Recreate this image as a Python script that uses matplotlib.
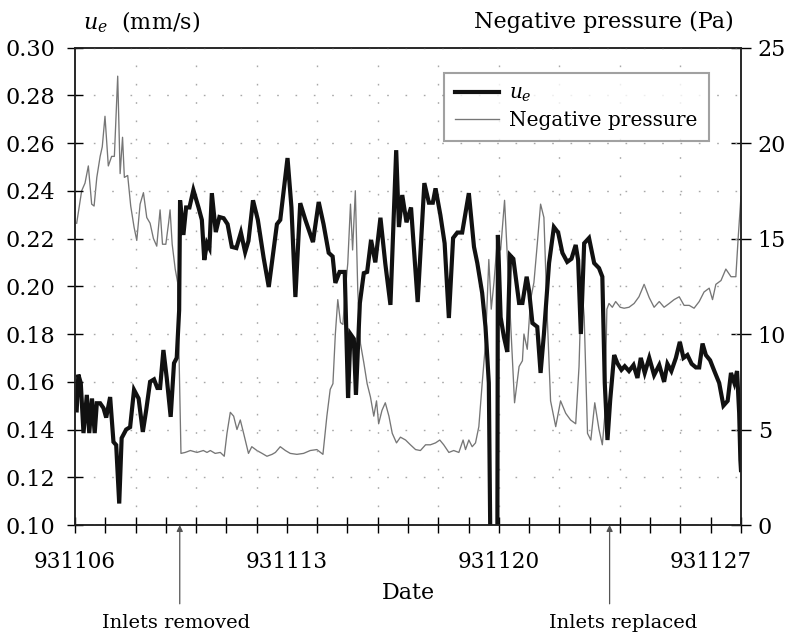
import matplotlib
matplotlib.use('Agg')
import matplotlib.pyplot as plt
import matplotlib.transforms as mtransforms
from matplotlib.ticker import FixedLocator, MultipleLocator, FormatStrFormatter

plt.rcParams['font.family'] = ['DejaVu Serif']
plt.rcParams['mathtext.fontset'] = 'dejavuserif'

# ---------------- data ----------------
date_ticks = [0, 7, 14, 21]
date_labels = ['931106', '931113', '931120', '931127']

# u_e (mm/s) : day offset from 931106, value
ue_day = [0.055, 0.11, 0.19, 0.28, 0.39, 0.47, 0.56, 0.65, 0.72, 0.83, 0.94, 1.03, 1.16, 1.27,
          1.36, 1.46, 1.54, 1.69, 1.82, 1.95, 2.10, 2.24, 2.35, 2.48, 2.61, 2.72, 2.81, 2.92,
          3.03, 3.16, 3.27, 3.36, 3.44, 3.47, 3.58, 3.67, 3.78, 3.91, 4.08, 4.19, 4.27, 4.36,
          4.44, 4.52, 4.65, 4.77, 4.91, 5.04, 5.18, 5.33, 5.48, 5.62, 5.73, 5.88, 6.04, 6.23,
          6.40, 6.56, 6.67, 6.78, 7.02, 7.15, 7.28, 7.44, 7.61, 7.86, 8.05, 8.21, 8.38, 8.51,
          8.60, 8.74, 8.91, 9.02, 9.10, 9.21, 9.28, 9.41, 9.54, 9.65, 9.78, 9.92, 10.09, 10.25,
          10.42, 10.61, 10.70, 10.81, 10.95, 11.10, 11.32, 11.54, 11.69, 11.82, 11.91, 12.07,
          12.21, 12.35, 12.49, 12.63, 12.79, 13.01, 13.18, 13.29, 13.45, 13.56, 13.67, 13.73,
          13.95, 13.97, 14.06, 14.17, 14.28, 14.37, 14.48, 14.67, 14.78, 14.92, 15.00, 15.11,
          15.27, 15.38, 15.49, 15.66, 15.82, 15.96, 16.10, 16.26, 16.40, 16.54, 16.62, 16.71,
          16.82, 16.98, 17.15, 17.31, 17.42, 17.50, 17.59, 17.68, 17.81, 17.92, 18.05, 18.16,
          18.30, 18.45, 18.58, 18.69, 18.82, 18.97, 19.13, 19.30, 19.46, 19.57, 19.70, 19.85,
          19.98, 20.10, 20.23, 20.37, 20.51, 20.62, 20.73, 20.84, 20.98, 21.12, 21.28, 21.42,
          21.56, 21.67, 21.78, 21.87, 21.94, 21.98, 22.00]
ue_val = [0.148, 0.163, 0.1595, 0.1385, 0.1545, 0.1385, 0.153, 0.1385, 0.151, 0.151, 0.149, 0.145,
          0.1536, 0.1348, 0.1335, 0.109, 0.1364, 0.140, 0.141, 0.1566, 0.153, 0.139, 0.148, 0.160,
          0.161, 0.1574, 0.1574, 0.1733, 0.1616, 0.1453, 0.1678, 0.170, 0.190, 0.236, 0.2215,
          0.233, 0.233, 0.2403, 0.233, 0.2278, 0.211, 0.218, 0.216, 0.239, 0.2227, 0.229, 0.2285,
          0.226, 0.2165, 0.216, 0.2225, 0.2143, 0.219, 0.236, 0.2278, 0.212, 0.1997, 0.2155,
          0.226, 0.2278, 0.2537, 0.233, 0.1955, 0.2348, 0.2278, 0.2185, 0.2353, 0.226, 0.214,
          0.2125, 0.2014, 0.206, 0.206, 0.1532, 0.180, 0.178, 0.1545, 0.193, 0.2055, 0.206,
          0.2194, 0.210, 0.2287, 0.2095, 0.1922, 0.257, 0.2248, 0.2382, 0.2268, 0.233, 0.1934,
          0.2432, 0.235, 0.235, 0.241, 0.2298, 0.218, 0.1867, 0.2202, 0.2225, 0.2225, 0.239,
          0.2165, 0.2097, 0.1972, 0.183, 0.1595, 0.08, 0.08, 0.2215, 0.187, 0.1787, 0.1725,
          0.213, 0.2115, 0.193, 0.193, 0.204, 0.198, 0.1846, 0.183, 0.1637, 0.180, 0.2097,
          0.2248, 0.2225, 0.214, 0.2102, 0.2115, 0.2173, 0.211, 0.180, 0.218, 0.2202, 0.2097,
          0.2076, 0.204, 0.1595, 0.1356, 0.1524, 0.1712, 0.1677, 0.165, 0.1665, 0.1645, 0.1670,
          0.1616, 0.170, 0.1637, 0.170, 0.1628, 0.1670, 0.160, 0.1675, 0.1645, 0.170, 0.1767,
          0.170, 0.1712, 0.1675, 0.166, 0.166, 0.176, 0.1712, 0.169, 0.1645, 0.1595, 0.150,
          0.152, 0.1637, 0.1595, 0.1645, 0.147, 0.1272, 0.123]

# Negative pressure (Pa)
np_day = [0.055, 0.22, 0.33, 0.44, 0.55, 0.63, 0.72, 0.83, 0.90, 0.99, 1.10, 1.21, 1.30, 1.41,
          1.49, 1.57, 1.63, 1.74, 1.84, 1.95, 2.04, 2.15, 2.26, 2.37, 2.48, 2.59, 2.70, 2.81,
          2.89, 3.00, 3.09, 3.14, 3.21, 3.31, 3.39, 3.44, 3.50, 3.64, 3.81, 4.03, 4.24, 4.36,
          4.47, 4.63, 4.80, 4.93, 5.02, 5.13, 5.24, 5.35, 5.46, 5.57, 5.73, 5.84, 6.01, 6.18,
          6.34, 6.51, 6.62, 6.78, 6.95, 7.11, 7.33, 7.55, 7.77, 7.99, 8.19, 8.32, 8.43, 8.52,
          8.60, 8.68, 8.77, 8.85, 8.93, 9.01, 9.10, 9.17, 9.26, 9.34, 9.43, 9.54, 9.65, 9.76,
          9.87, 9.96, 10.03, 10.14, 10.25, 10.37, 10.48, 10.62, 10.75, 10.92, 11.08, 11.25,
          11.41, 11.58, 11.74, 11.91, 12.05, 12.18, 12.35, 12.51, 12.68, 12.82, 12.90, 13.01,
          13.12, 13.23, 13.34, 13.45, 13.56, 13.67, 13.75, 13.84, 13.95, 14.06, 14.19, 14.52,
          14.67, 14.78, 14.83, 14.94, 15.05, 15.16, 15.27, 15.38, 15.49, 15.60, 15.71, 15.88,
          16.04, 16.21, 16.37, 16.54, 16.65, 16.73, 16.82, 16.93, 17.04, 17.17, 17.31, 17.42,
          17.50, 17.57, 17.64, 17.75, 17.86, 18.01, 18.14, 18.30, 18.47, 18.63, 18.80, 18.97,
          19.13, 19.30, 19.46, 19.63, 19.79, 19.96, 20.12, 20.29, 20.45, 20.62, 20.78, 20.95,
          21.06, 21.17, 21.34, 21.50, 21.67, 21.83, 21.91, 22.00]
np_val = [15.8, 17.5, 17.9, 18.8, 16.8, 16.7, 18.2, 19.3, 19.8, 21.4, 18.8, 19.3, 19.3, 23.5,
          18.4, 20.3, 18.2, 18.3, 16.7, 15.6, 14.9, 16.8, 17.4, 16.1, 15.8, 15.0, 14.6, 16.5,
          14.7, 14.7, 15.8, 16.5, 14.7, 13.4, 12.7, 8.5, 3.75, 3.8, 3.9, 3.8, 3.9, 3.8, 3.9,
          3.75, 3.8, 3.6, 4.8, 5.9, 5.7, 5.0, 5.5, 4.8, 3.75, 4.1, 3.9, 3.75, 3.6, 3.7, 3.8,
          4.1, 3.9, 3.75, 3.7, 3.75, 3.9, 3.95, 3.7, 5.7, 7.1, 7.4, 10.0, 11.8, 10.6, 10.5,
          12.3, 13.7, 16.8, 14.4, 17.5, 12.3, 9.5, 8.5, 7.4, 6.7, 5.7, 6.5, 5.3, 6.0, 6.4, 5.7,
          4.8, 4.3, 4.6, 4.45, 4.2, 3.95, 3.9, 4.2, 4.2, 4.3, 4.45, 4.2, 3.8, 3.9, 3.8, 4.45,
          3.95, 4.45, 4.1, 4.3, 5.15, 7.4, 9.5, 13.9, 11.3, 12.7, 14.9, 14.4, 17.0, 6.4, 8.3,
          8.6, 10.0, 9.2, 11.8, 12.7, 14.7, 16.8, 16.1, 10.9, 6.5, 5.15, 6.5, 5.85, 5.5, 5.3,
          8.3, 12.7, 10.9, 4.8, 4.45, 6.4, 5.0, 4.2, 5.7, 11.3, 11.6, 11.4, 11.7, 11.4, 11.35,
          11.4, 11.6, 11.95, 12.6, 11.9, 11.4, 11.7, 11.4, 11.6, 11.8, 11.95, 11.5, 11.5, 11.35,
          11.7, 12.2, 12.4, 11.8, 12.6, 12.8, 13.4, 13.0, 13.0, 15.1, 17.2]

event_names = ['Inlets removed', 'Inlets replaced']
event_day = [3.46, 17.66]

# ---------------- figure ----------------
fig = plt.figure(figsize=(7.93, 6.36), dpi=100)
ax = fig.add_axes([0.0946, 0.1745, 0.8398, 0.7508])
ax2 = ax.twinx()
ax.set_zorder(ax2.get_zorder() + 1)
ax.patch.set_visible(False)

ln_p, = ax2.plot(np_day, np_val, color='#767676', lw=0.95, label='Negative pressure')
ln_u, = ax.plot(ue_day, ue_val, color='#111111', lw=3.0, solid_joinstyle='miter',
                label=r'$u_e$')

ax.set_xlim(0, 22)
ax.set_ylim(0.10, 0.30)
ax2.set_ylim(0, 25)

ax.xaxis.set_major_locator(FixedLocator(date_ticks))
ax.set_xticklabels(date_labels)
ax.xaxis.set_minor_locator(MultipleLocator(1))
ax.yaxis.set_major_locator(MultipleLocator(0.02))
ax.yaxis.set_major_formatter(FormatStrFormatter('%.2f'))
ax2.yaxis.set_major_locator(MultipleLocator(5))

ax.tick_params(axis='x', which='both', direction='inout', length=11, width=1.0,
               pad=13, labelsize=15.5)
ax.tick_params(axis='y', direction='inout', length=12, width=1.0, pad=8, labelsize=16)
ax2.tick_params(axis='y', direction='inout', length=14, width=1.0, pad=5, labelsize=16)

for a in (ax, ax2):
    for s in a.spines.values():
        s.set_linewidth(1.1)
        s.set_color('#222222')

grid_kw = dict(color='#a8a8a8', lw=1.0, linestyle=(0, (1.2, 12)))
ax.yaxis.grid(True, **grid_kw)
for d in range(2, 22, 2):
    ax.axvline(d, zorder=0.5, **grid_kw)

ax.set_xlabel('Date', fontsize=16, labelpad=7)

fig.text(83 / 793, 1 - 22 / 636, r'$u_e$  (mm/s)', fontsize=16, ha='left', va='center')
fig.text(734 / 793, 1 - 22 / 636, 'Negative pressure (Pa)', fontsize=16,
         ha='right', va='center')

leg = ax.legend(handles=[ln_u, ln_p], loc='upper left', bbox_to_anchor=(0.554, 0.947),
                borderaxespad=0, fontsize=14.5, frameon=True, fancybox=False,
                handlelength=2.2, handletextpad=0.5, borderpad=0.55, labelspacing=0.35)
leg.get_frame().set_edgecolor('#8a8a8a')
leg.get_frame().set_linewidth(1.5)

trans = mtransforms.blended_transform_factory(ax.transData, ax.transAxes)
text_shift = [-0.12, 0.45]
for name, d, sh in zip(event_names, event_day, text_shift):
    ax.annotate('', xy=(d, 0.0), xycoords=trans, xytext=(d, -0.165), textcoords=trans,
                arrowprops=dict(arrowstyle='-|>', color='#555555', lw=0.9,
                                mutation_scale=9, shrinkA=0, shrinkB=0),
                annotation_clip=False)
    ax.text(d + sh, -0.205, name, transform=trans, ha='center', va='center', fontsize=14)

fig.savefig('out.png', dpi=100)
